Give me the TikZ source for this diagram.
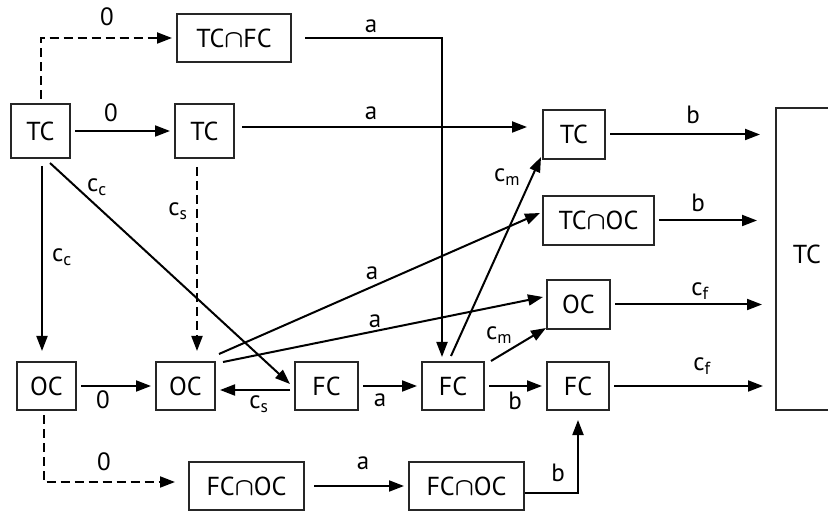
\documentclass[tikz,border=0pt]{standalone}
\usepackage{fontspec}
\setmainfont{PT Sans}
\usetikzlibrary{arrows.meta,calc}
\newcommand{\capsym}{{\boldmath$\cap$}}
\begin{document}
\begin{tikzpicture}[x=1pt,y=-1pt,
 box/.style={draw=black!85, line width=1.3pt, inner sep=0pt, minimum height=48pt, outer sep=5pt, font=\fontsize{26}{28}\selectfont},
 arr/.style={line width=2pt, -{Triangle[length=15pt,width=11pt]}},
 dsh/.style={dash pattern=on 9pt off 5pt},
 lab/.style={font=\fontsize{25}{27}\selectfont, inner sep=0pt}]
\useasboundingbox (0,0) rectangle (828,513);
\clip (0,0) rectangle (828,513);
% nodes
\node[box, minimum width=114pt] (tcfc) at (234,38) {TC\capsym FC};
\node[box, minimum width=59pt, minimum height=54pt] (tc1) at (40.5,131) {TC};
\node[box, minimum width=59pt, minimum height=54pt] (tc2) at (204.5,131) {TC};
\node[box, minimum width=62pt, minimum height=49pt] (tc3) at (574,134.5) {TC};
\node[box, minimum width=111pt, minimum height=49pt] (tcoc) at (598.5,220.5) {TC\capsym OC};
\node[box, minimum width=63pt, minimum height=49pt] (oc3) at (578.5,304.5) {OC};
\node[box, minimum width=62pt] (fc3) at (578,386) {FC};
\node[box, minimum width=59pt] (oc1) at (46.5,386) {OC};
\node[box, minimum width=59pt] (oc2) at (185.5,386) {OC};
\node[box, minimum width=63pt] (fc1) at (326.5,386) {FC};
\node[box, minimum width=62pt] (fc2) at (453,386) {FC};
\node[box, minimum width=115pt] (fo1) at (246.5,486) {FC\capsym OC};
\node[box, minimum width=115pt] (fo2) at (466.5,486) {FC\capsym OC};
\node[box, minimum width=62pt, minimum height=302pt] (big) at (807,259) {\raisebox{9pt}{TC}};
% connectors
\draw[arr,dsh] (tc1.north) |- (tcfc.west);
\draw[arr,shorten <=9pt] (tcfc.east) -| ([xshift=-11pt]fc2.north);
\draw[arr] (tc1) -- (tc2);
\draw[arr,shorten <=3pt,shorten >=11pt] ([yshift=4pt]tc2.east) -- ([yshift=7.5pt]tc3.west);
\draw[arr,shorten >=11pt] (tc3) -- (tc3 -| big.west);
\draw[arr,shorten >=14pt] (tcoc) -- (tcoc -| big.west);
\draw[arr,shorten >=9pt] (oc3) -- (oc3 -| big.west);
\draw[arr,shorten >=8pt] (fc3) -- (fc3 -| big.west);
\draw[arr,dsh,shorten <=4pt,shorten >=6pt] ([xshift=-7.5pt]tc2.south) -- ([xshift=-7.5pt]tc2.south |- oc2.north);
\draw[arr,shorten <=3pt,shorten >=6pt] ([xshift=1.5pt]tc1.south) -- ([xshift=1.5pt]tc1.south |- oc1.north);
\draw[arr] ([xshift=9.5pt]tc1.south) -- ([yshift=2pt]fc1.west);
\draw[arr] (oc1) -- (oc2);
\draw[arr] ([yshift=-4pt]fc1.west) -- ([yshift=-4pt]oc2.east);
\draw[arr] (fc1) -- (fc2);
\draw[arr] (fc2) -- (fc3);
\draw[arr] ($(fc2.north east)+(2,4)$) -- ($(oc3.south west)+(4,-6)$);
\draw[arr] ($(fc2.north)+(-2,-1)$) -- ($(tc3.south west)+(3,-7)$);
\draw[arr] ($(oc2.north east)+(-1,-3)$) -- ($(tcoc.west)+(2,-7.5)$);
\draw[arr] ($(oc2.north east)+(3,5)$) -- ($(oc3.west)+(1,-7.5)$);
\draw[arr,dsh,shorten >=9pt] ([xshift=-3pt]oc1.south) |- ([yshift=4pt]fo1.west);
\draw[arr,shorten <=5pt] (fo1) -- (fo2);
\draw[arr,shorten >=5pt] ([xshift=-4pt,yshift=-7pt]fo2.east) -| (fc3.south);
% labels
\node[lab] (l1) at (107,17) {0};
\node[lab] (l2) at (371,26) {a};
\node[lab] (l3) at (111,113) {0};
\node[lab] (l4) at (371,113) {a};
\node[lab] (l5) at (97,187) {c\textsubscript{c}};
\node[lab] (l6) at (178,211) {c\textsubscript{s}};
\node[lab] (l7) at (62,257) {c\textsubscript{c}};
\node[lab] (l8) at (693,115) {b};
\node[lab] (l9) at (698,203) {b};
\node[lab] (l10) at (507,177) {c\textsubscript{m}};
\node[lab] (l11) at (372,273) {a};
\node[lab] (l12) at (375,321) {a};
\node[lab] (l13) at (700,291) {c\textsubscript{f}};
\node[lab] (l14) at (499,335) {c\textsubscript{m}};
\node[lab] (l15) at (702,366) {c\textsubscript{f}};
\node[lab] (l16) at (103,400) {0};
\node[lab] (l17) at (259,404) {c\textsubscript{s}};
\node[lab] (l18) at (380,400) {a};
\node[lab] (l19) at (515,401) {b};
\node[lab] (l20) at (104,462) {0};
\node[lab] (l21) at (363,463) {a};
\node[lab] (l22) at (558,473) {b};
\end{tikzpicture}
\end{document}
